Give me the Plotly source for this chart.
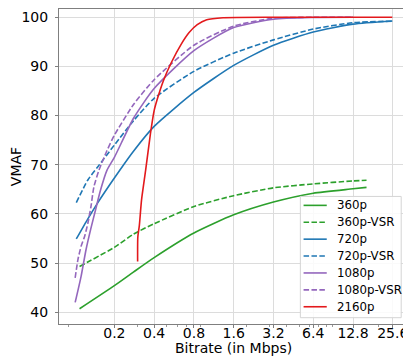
import math

import plotly.graph_objects as go

# 数据：码率 (Mbps) 与 VMAF
br_360 = [0.109, 0.2, 0.28, 0.4, 0.8, 1.6, 3.2, 6.4, 12.8, 16.2]
vmaf_360 = [40.7, 45.4, 48.2, 51.1, 56.1, 59.8, 62.4, 64.2, 65.1, 65.4]

br_360_vsr = [0.109, 0.2, 0.28, 0.4, 0.8, 1.6, 3.2, 6.4, 12.8, 16.2]
vmaf_360_vsr = [49.3, 53.2, 55.9, 58.0, 61.5, 63.7, 65.3, 66.1, 66.7, 66.85]

br_720 = [0.103, 0.126, 0.15, 0.2, 0.28, 0.4, 0.8, 1.6, 3.2, 6.4, 12.8, 25.4]
vmaf_720 = [54.9, 59.0, 62.3, 67.3, 72.8, 77.8, 84.7, 90.2, 94.3, 97.0, 98.6, 99.25]

br_720_vsr = [0.103, 0.126, 0.15, 0.2, 0.28, 0.4, 0.8, 1.6, 3.2, 6.4, 12.8, 25.4]
vmaf_720_vsr = [62.3, 66.9, 69.6, 74.0, 79.0, 83.5, 89.0, 92.7, 95.4, 97.6, 98.9, 99.2]

br_1080 = [0.101, 0.112, 0.122, 0.133, 0.144, 0.157, 0.176, 0.2, 0.28, 0.4,
           0.8, 1.6, 3.2, 6.4, 12.8]
vmaf_1080 = [42.0, 47.3, 52.7, 57.1, 60.8, 64.8, 68.9, 71.5, 79.5, 85.5,
             93.2, 97.9, 99.6, 99.95, 100.0]

br_1080_vsr = [0.101, 0.106, 0.112, 0.119, 0.126, 0.133, 0.140, 0.153, 0.176,
               0.2, 0.28, 0.4, 0.8, 1.6, 3.2, 6.4, 12.8]
vmaf_1080_vsr = [47.0, 50.7, 53.4, 55.4, 58.1, 61.5, 65.5, 68.9, 72.9,
                 76.0, 82.3, 87.3, 94.3, 98.2, 99.8, 100.0, 100.0]

br_2160 = [0.300, 0.301, 0.309, 0.321, 0.345, 0.375, 0.4, 0.42, 0.47, 0.54,
           0.64, 0.736, 0.848, 1.0, 1.33, 3.2, 6.4, 12.8, 25.4]
vmaf_2160 = [50.3, 55.3, 57.6, 62.8, 68.9, 76.3, 81.0, 83.1, 87.1, 90.8,
             94.5, 96.9, 98.5, 99.5, 99.9, 100.0, 100.0, 100.0, 100.0]

x_ticks = [0.2, 0.4, 0.8, 1.6, 3.2, 6.4, 12.8, 25.6]
x_minor = [0.09, 0.3, 0.5, 0.6, 0.7, 0.9, 2, 3, 4, 5, 6, 7, 8, 9, 20]
y_ticks = [40, 50, 60, 70, 80, 90, 100]

GREEN = "#2ca02c"
BLUE = "#1f77b4"
PURPLE = "#9467bd"
RED = "#e3191c"
DASH = "5.5px,2.4px"

series = [
    ("360p", br_360, vmaf_360, GREEN, "solid"),
    ("360p-VSR", br_360_vsr, vmaf_360_vsr, GREEN, DASH),
    ("720p", br_720, vmaf_720, BLUE, "solid"),
    ("720p-VSR", br_720_vsr, vmaf_720_vsr, BLUE, DASH),
    ("1080p", br_1080, vmaf_1080, PURPLE, "solid"),
    ("1080p-VSR", br_1080_vsr, vmaf_1080_vsr, PURPLE, DASH),
    ("2160p", br_2160, vmaf_2160, RED, "solid"),
]

fig = go.Figure()
for name, x, y, color, dash in series:
    fig.add_trace(
        go.Scatter(
            x=x, y=y, name=name, mode="lines", showlegend=False,
            line=dict(color=color, width=1.6, dash=dash, shape="spline", smoothing=0.6),
        )
    )

# 自绘图例（plotly 自带图例行距偏大），坐标为 paper 坐标
FONT = "DejaVu Sans"
LEG_X0, LEG_X1, LEG_Y0, LEG_Y1 = 0.6936, 0.9833, 0.020, 0.405
ROW_TOP, ROW_STEP = 0.3766, 16.95 / 316
fig.add_shape(
    type="rect", xref="paper", yref="paper",
    x0=LEG_X0, x1=LEG_X1, y0=LEG_Y0, y1=LEG_Y1,
    fillcolor="rgba(255,255,255,0.85)", line=dict(color="#d4d4d4", width=1), layer="above",
)
for i, (name, _, _, color, dash) in enumerate(series):
    yy = ROW_TOP - i * ROW_STEP
    fig.add_shape(
        type="line", xref="paper", yref="paper",
        x0=0.7028, x1=0.7694, y0=yy, y1=yy,
        line=dict(color=color, width=1.6, dash=dash), layer="above",
    )
    fig.add_annotation(
        xref="paper", yref="paper", x=0.7944, y=yy, text=name, showarrow=False,
        xanchor="left", yanchor="middle", font=dict(family=FONT, size=11.8, color="black"),
    )

# x 轴标题单独放，便于对齐
fig.add_annotation(
    xref="paper", yref="paper", x=0.5, y=-0.076, text="Bitrate (in Mbps)",
    showarrow=False, xanchor="center", yanchor="middle",
    font=dict(family=FONT, size=14, color="black"),
)

# 页面 body 默认有 8px 边距，图尺寸相应缩小
fig.update_layout(
    width=403, height=350,
    margin=dict(l=39, r=4, t=0, b=34),
    paper_bgcolor="white", plot_bgcolor="white",
    font=dict(family=FONT, size=14, color="black"),
    showlegend=False,
)
fig.update_xaxes(
    type="log",
    range=[math.log10(0.0762), math.log10(32.8)],
    tickmode="array", tickvals=x_ticks, ticktext=[str(v) for v in x_ticks],
    showgrid=True, gridcolor="#dcdcdc", gridwidth=1,
    showline=True, linecolor="#7f7f7f", linewidth=1, mirror=True,
    ticks="outside", ticklen=3, tickcolor="#7f7f7f",
    ticklabelstandoff=-7,
    minor=dict(tickvals=x_minor, ticks="outside", ticklen=2, tickcolor="#9a9a9a", showgrid=False),
    zeroline=False,
)
fig.update_yaxes(
    range=[37.6, 101.68],
    tickmode="array", tickvals=y_ticks,
    showgrid=True, gridcolor="#dcdcdc", gridwidth=1,
    showline=True, linecolor="#7f7f7f", linewidth=1, mirror=True,
    ticks="outside", ticklen=3, tickcolor="#7f7f7f",
    ticklabelstandoff=4,
    title=dict(text="VMAF", font=dict(family=FONT, size=14), standoff=4),
    zeroline=False,
)

fig.write_html("out.html")
